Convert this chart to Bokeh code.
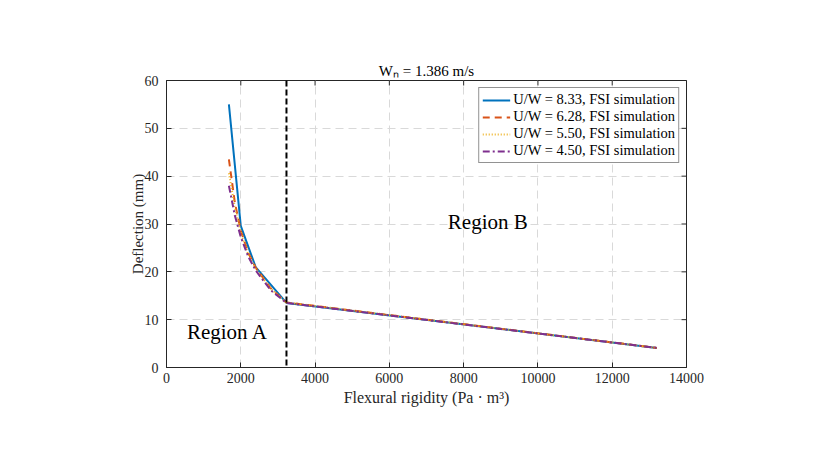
import math
from bokeh.plotting import figure
from bokeh.models import Legend, LegendItem, Span, SingleIntervalTicker, Range1d, Label
from bokeh.embed import file_html
from bokeh.resources import INLINE

# ---- data ----
rigidity_blue = [1680, 2000, 2400, 3230, 13200]
defl_833 = [55.0, 29.6, 21.0, 13.5, 4.1]

rigidity = [1680, 1840, 2000, 2200, 2400, 2800, 3230, 13200]
defl_628 = [43.5, 34.5, 28.6, 24.0, 20.9, 16.6, 13.6, 4.1]
defl_550 = [40.6, 33.5, 28.2, 23.7, 20.7, 16.5, 13.6, 4.1]
defl_450 = [38.0, 31.8, 27.3, 23.2, 20.3, 16.2, 13.5, 4.1]

labels = ["U/W = 8.33, FSI simulation", "U/W = 6.28, FSI simulation",
          "U/W = 5.50, FSI simulation", "U/W = 4.50, FSI simulation"]
boundary_x = 3230
x_ticks = [0, 2000, 4000, 6000, 8000, 10000, 12000, 14000]
y_ticks = [0, 10, 20, 30, 40, 50, 60]
title_text = "W\u2099 = 1.386 m/s"
x_label = "Flexural rigidity (Pa \u00b7 m\u00b3)"
y_label = "Deflection (mm)"

FONT = "Liberation Serif"
colors = ["#0072BD", "#D95319", "#EDB120", "#7E2F8E"]
AXC = "#262626"

p = figure(output_backend="svg", toolbar_location=None,
           frame_width=520, frame_height=287,
           min_border_left=166, min_border_right=136,
           min_border_top=80, min_border_bottom=86,
           x_range=Range1d(x_ticks[0], x_ticks[-1]), y_range=Range1d(y_ticks[0], y_ticks[-1]),
           title=title_text)

p.title.align = "center"
p.title.text_font = FONT
p.title.text_font_size = "15px"
p.title.text_font_style = "normal"
p.title.text_color = "#000000"
p.title.standoff = 4

p.outline_line_color = AXC
p.outline_line_width = 1

p.xaxis.ticker = SingleIntervalTicker(interval=2000)
p.yaxis.ticker = SingleIntervalTicker(interval=10)

for ax in (p.xaxis[0], p.yaxis[0]):
    ax.major_tick_in = 5
    ax.major_tick_out = 0
    ax.minor_tick_in = 0
    ax.minor_tick_out = 0
    ax.axis_line_color = AXC
    ax.major_tick_line_color = AXC
    ax.major_label_text_font = FONT
    ax.major_label_text_font_size = "14px"
    ax.major_label_text_color = AXC
    ax.axis_label_text_font = FONT
    ax.axis_label_text_font_style = "normal"
    ax.axis_label_text_color = AXC
p.xaxis.axis_label = x_label
p.yaxis.axis_label = y_label
p.xaxis.axis_label_text_font_size = "16px"
p.yaxis.axis_label_text_font_size = "15px"
p.xaxis.axis_label_standoff = 3
p.yaxis.axis_label_standoff = -4
p.xaxis.major_label_standoff = 5
p.yaxis.major_label_standoff = 8

# inward ticks on the top and right edges of the box (clipped to the frame)
p.scatter(x_ticks, [y_ticks[-1]] * len(x_ticks), marker="dash", size=10,
          angle=math.pi / 2, line_color=AXC, line_width=1)
p.scatter([x_ticks[-1]] * len(y_ticks), y_ticks, marker="dash", size=10,
          line_color=AXC, line_width=1)

p.xgrid.grid_line_color = "#d9d9d9"
p.ygrid.grid_line_color = "#d9d9d9"
p.xgrid.grid_line_dash = "8 5"
p.ygrid.grid_line_dash = "8 5"
p.xgrid.grid_line_width = 1
p.ygrid.grid_line_width = 1

r1 = p.line(rigidity_blue, defl_833, line_color=colors[0], line_width=2)
r2 = p.line(rigidity, defl_628, line_color=colors[1], line_width=2, line_dash="7 5")
r3 = p.line(rigidity, defl_550, line_color=colors[2], line_width=2, line_dash="1 2")
r4 = p.line(rigidity, defl_450, line_color=colors[3], line_width=2, line_dash="7 3 2 3")

p.add_layout(Span(location=boundary_x, dimension="height", line_color="black",
                  line_width=2, line_dash="6 3"))

p.add_layout(Label(x=1640, y=5.0, text="Region A", text_font=FONT,
                   text_font_size="21px", text_align="center", text_color="black"))
p.add_layout(Label(x=8650, y=28.0, text="Region B", text_font=FONT,
                   text_font_size="21px", text_align="center", text_color="black"))

legend = Legend(items=[LegendItem(label=l, renderers=[r]) for l, r in zip(labels, [r1, r2, r3, r4])],
                location="top_right")
legend.label_text_font = FONT
legend.label_text_font_size = "14.5px"
legend.label_text_color = "black"
legend.label_standoff = 3
legend.glyph_width = 28
legend.glyph_height = 12
legend.label_height = 12
legend.spacing = -2
legend.padding = 3
legend.margin = 7
legend.border_line_color = AXC
legend.border_line_width = 1
legend.background_fill_alpha = 1
p.add_layout(legend)

open("out.html", "w").write(file_html(p, INLINE))
